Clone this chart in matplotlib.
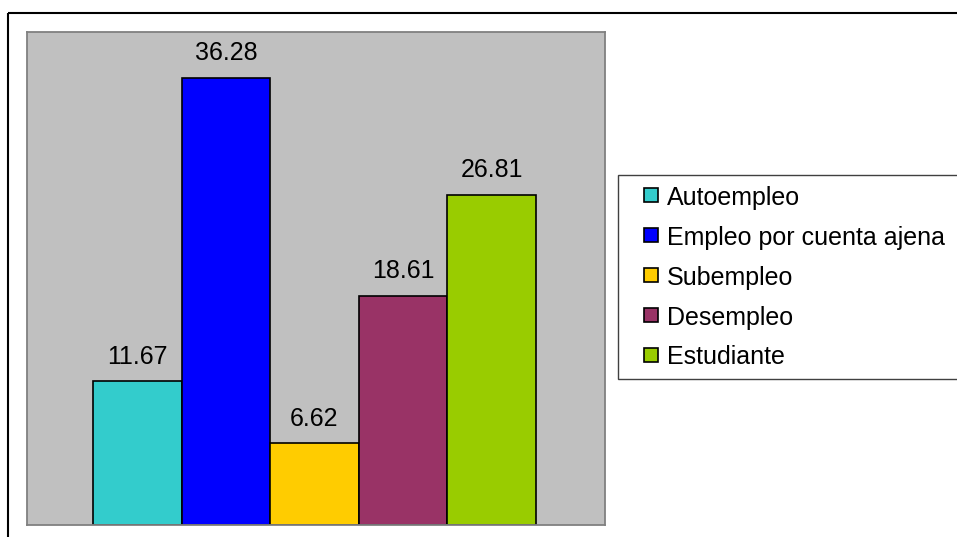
import matplotlib
matplotlib.use("Agg")
import matplotlib.pyplot as plt
from matplotlib.patches import Rectangle
from matplotlib.transforms import Affine2D

plt.rcParams['font.family'] = ['Liberation Sans', 'DejaVu Sans']

categories = ["Autoempleo", "Empleo por cuenta ajena", "Subempleo", "Desempleo", "Estudiante"]
values = [11.67, 36.28, 6.62, 18.61, 26.81]
colors = ["#33CCCC", "#0000FF", "#FFCC00", "#993366", "#99CC00"]

W, H = 957, 537
FS = 18
fig = plt.figure(figsize=(W / 100, H / 100), dpi=100)
fig.patch.set_facecolor("white")

# pixel coordinates measured from the top-left corner of the figure
px = Affine2D().scale(1, -1).translate(0, H)

# outer chart frame (runs off the right and bottom edges)
fig.patches.append(Rectangle((8, 12.5), 1100, 600, transform=px, fill=False,
                             edgecolor="black", linewidth=1.5, zorder=0))

ax = fig.add_axes([27 / W, 12 / H, (605 - 27) / W, (525 - 32) / H])
ax.set_facecolor("#C0C0C0")
for s in ax.spines.values():
    s.set_color("#808080")
    s.set_linewidth(1.3)

x = list(range(len(values)))
ax.bar(x, values, width=1.0, color=colors, edgecolor="black", linewidth=1.2)
ax.set_xlim(-1.245, 5.279)
ax.set_ylim(0, 40)
ax.set_xticks([])
ax.set_yticks([])

for xi, v in zip(x, values):
    ax.annotate(f"{v:.2f}", (xi, v), xytext=(0, 9), textcoords="offset points",
                ha="center", va="bottom", fontsize=FS, color="black")

# legend box
fig.patches.append(Rectangle((618, 175), 600, 204, transform=px, facecolor="white",
                             edgecolor="#404040", linewidth=1.0, zorder=1))
for i, (name, c) in enumerate(zip(categories, colors)):
    yc = 195 + 40 * i
    fig.patches.append(Rectangle((644, yc - 7), 14, 14, transform=px, facecolor=c,
                                 edgecolor="black", linewidth=1.2, zorder=2))
    fig.text(667, H - yc, name, transform=None, fontsize=FS, ha="left",
             va="center_baseline", color="black", zorder=3)

fig.savefig("out.png", dpi=100)
